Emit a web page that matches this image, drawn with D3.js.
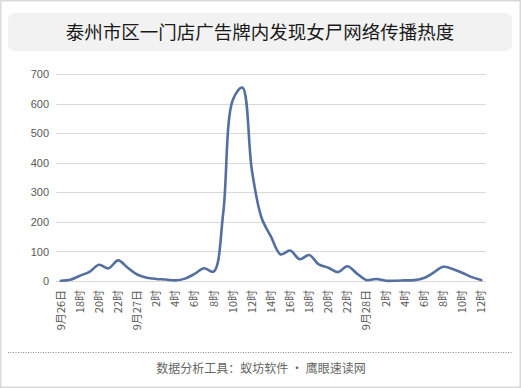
<!DOCTYPE html>
<html><head><meta charset="utf-8">
<script src="https://cdn.jsdelivr.net/npm/d3@7"></script>
<style>
html,body{margin:0;padding:0;background:#fff;}
svg{display:block;}
</style></head>
<body>
<svg id="c" width="521" height="388"></svg>
<script>
const title = "泰州市区一门店广告牌内发现女尸网络传播热度";
const footer = "数据分析工具：蚁坊软件 · 鹰眼速读网";
const categories = [
 "9月26日","17时","18时","19时","20时","21时","22时","23时",
 "9月27日","1时","2时","3时","4时","5时","6时","7时","8时","9时","10时","11时","12时","13时","14时","15时","16时","17时","18时","19时","20时","21时","22时","23时",
 "9月28日","1时","2时","3时","4时","5时","6时","7时","8时","9时","10时","11时","12时"
];
const values = [
 1,4,18,31,55,43,70,45,
 22,11,7,5,2,8,24,43,32,230,613,655,375,215,150,90,103,74,88,56,45,30,50,25,
 3,7,1,1,2,3,10,28,48,41,28,13,3
];
const yTicks = [0,100,200,300,400,500,600,700];

const svg = d3.select("#c");
const W = 521, H = 388;
svg.append("rect").attr("x",0.75).attr("y",0.75).attr("width",W-1.5).attr("height",H-1.5)
  .attr("fill","#fff").attr("stroke","#d9d9d9").attr("stroke-width",1.5);
svg.append("rect").attr("x",8).attr("y",13).attr("width",504).attr("height",38).attr("rx",7)
  .attr("fill","#f2f2f2");
svg.append("text").attr("x",260).attr("y",38.5).attr("text-anchor","middle")
  .attr("font-family","'Noto Sans CJK SC', sans-serif").attr("font-size",18.5).attr("fill","#1a1a1a")
  .text(title);

const idx = categories.map((d,i)=>i);
const x = d3.scaleBand().domain(idx).range([56,486]);
const y = d3.scaleLinear().domain([0,700]).range([281,74.3]);

svg.append("g").selectAll("line").data(yTicks).join("line")
  .attr("x1",56).attr("x2",486).attr("y1",d=>Math.round(y(d))+0.5).attr("y2",d=>Math.round(y(d))+0.5)
  .attr("stroke","#d9d9d9").attr("stroke-width",1);

const yAxis = d3.axisLeft(y).tickValues(yTicks).tickSize(0).tickPadding(0);
const ya = svg.append("g").attr("transform","translate(49,0)").call(yAxis);
ya.select(".domain").remove();
ya.selectAll("text").attr("font-family","'Liberation Sans', Arial, sans-serif").attr("font-size",11).attr("fill","#595959");

const xAxis = d3.axisBottom(x).tickValues(idx.filter(i=>i%2===0)).tickFormat(i=>categories[i]).tickSize(0).tickPadding(0);
const xa = svg.append("g").attr("transform","translate(0,290)").call(xAxis);
xa.select(".domain").remove();
xa.selectAll("text")
  .attr("font-family","'Noto Sans CJK SC', sans-serif").attr("font-size",11).attr("fill","#595959")
  .attr("transform","rotate(-90)").attr("text-anchor","end").attr("dy","0.35em").attr("x",0).attr("y",0);

const line = d3.line().x((d,i)=>x(i)+x.bandwidth()/2).y(d=>y(d)).curve(d3.curveCatmullRom.alpha(0.5));
svg.append("path").datum(values).attr("d",line).attr("fill","none")
  .attr("stroke","#5470a0").attr("stroke-width",2.6).attr("stroke-linejoin","round").attr("stroke-linecap","round");

svg.append("line").attr("x1",8).attr("x2",513).attr("y1",352.5).attr("y2",352.5)
  .attr("stroke","#888").attr("stroke-width",1).attr("stroke-dasharray","1,1.5");
svg.append("text").attr("x",261).attr("y",373).attr("text-anchor","middle")
  .attr("font-family","'Noto Sans CJK SC', sans-serif").attr("font-size",12).attr("fill","#666")
  .text(footer);
</script>
</body></html>
